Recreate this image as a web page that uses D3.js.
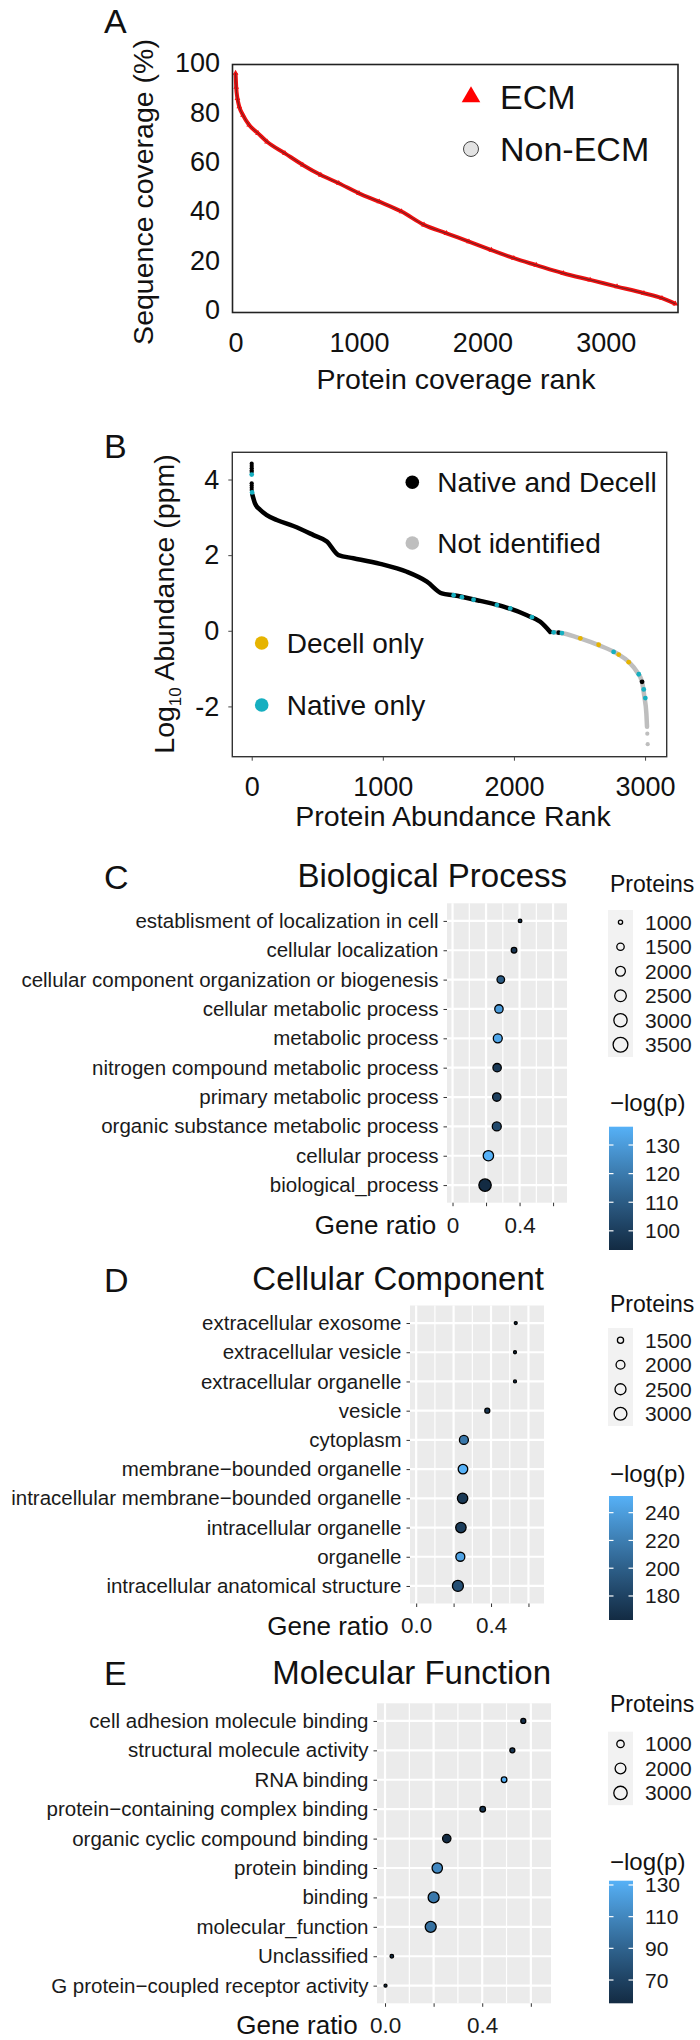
<!DOCTYPE html>
<html><head><meta charset="utf-8">
<script src="https://cdn.jsdelivr.net/npm/d3@7"></script>
<style>body{margin:0;background:#fff}svg{display:block}text{font-family:"Liberation Sans",Arial,sans-serif}</style>
</head><body>
<script>
// ---------- DATA ----------
// Panel A: sequence coverage vs rank
const aRank = [0,5,15,30,60,110,182,255,400,545,691,836,1000,1164,1345,1527,1709,1891,2073,2255,2436,2655,2873,3091,3309,3455,3564];
const aCov  = [96,90.3,85.8,82.4,79.0,75.0,71.6,68.2,63.5,58.8,54.7,51.4,47.3,43.9,39.9,34.5,31.1,27.7,24.3,21.0,18.2,14.9,12.2,9.5,6.8,4.8,2.5];
const aTicksX = [0,1000,2000,3000];
const aTicksY = [0,20,40,60,80,100];

// Panel B: log10 abundance vs rank
const bBothRank = [5,25,64,115,191,318,471,573,662,776,980,1183,1336,1450,1540,1743,1921,2099,2201,2277];
const bBothVal  = [3.6,3.37,3.2,3.06,2.93,2.77,2.53,2.36,2.0,1.92,1.77,1.56,1.30,0.99,0.94,0.79,0.64,0.41,0.24,-0.03];
const bNotRank = [2277,2379,2506,2646,2786,2875,2939,2977,2995,3010,3015];
const bNotVal  = [-0.03,-0.07,-0.2,-0.38,-0.6,-0.82,-1.09,-1.35,-1.75,-2.19,-2.54];
const bTopBothRank = [0,0,0,0,0,0,0,0,0];
const bTopBothVal  = [4.42,4.36,4.3,4.24,4.2,3.9,3.84,3.78,3.72];
const bExtraBothRank = [2341,2977];
const bExtraBothVal  = [-0.05,-1.35];
const bExtraNotRank = [3017,3020];
const bExtraNotVal  = [-2.72,-3.0];
const bNativeRank = [0,3,1540,1603,1692,1870,1972,2137,2303,2366,2760,2952,2990,3002];
const bNativeVal  = [4.13,3.66,0.94,0.89,0.82,0.68,0.59,0.36,-0.04,-0.06,-0.56,-1.15,-1.55,-1.78];
const bDecellRank = [2506,2646,2799,2875];
const bDecellVal  = [-0.2,-0.37,-0.63,-0.83];
const bTicksX = [0,1000,2000,3000];
const bTicksY = [-2,0,2,4];

// Panel C: Biological Process
const cCats = ["establisment of localization in cell","cellular localization","cellular component organization or biogenesis","cellular metabolic process","metabolic process","nitrogen compound metabolic process","primary metabolic process","organic substance metabolic process","cellular process","biological_process"];
const cRatio = [0.403,0.367,0.288,0.277,0.27,0.266,0.264,0.264,0.214,0.194];
const cProteins = [912,1159,1493,1652,1780,1652,1652,1780,2110,2656];
const cLogP = [96,97,110,130,133.5,98.5,100.6,104,136.4,93.3];
const cSizeBreaks = [1000,1500,2000,2500,3000,3500];
const cColorTicks = [100,110,120,130];
const cColorRange = [93.3,136.4];

// Panel D: Cellular Component
const dCats = ["extracellular exosome","extracellular vesicle","extracellular organelle","vesicle","cytoplasm","membrane\u2212bounded organelle","intracellular membrane\u2212bounded organelle","intracellular organelle","organelle","intracellular anatomical structure"];
const dRatio = [0.532,0.528,0.528,0.38,0.255,0.25,0.248,0.239,0.236,0.223];
const dProteins = [1088,1088,1088,1300,1980,2112,2299,2299,1980,2448];
const dLogP = [162.7,165,166,172,216,252,173,176,243,189];
const dSizeBreaks = [1500,2000,2500,3000];
const dColorTicks = [180,200,220,240];
const dColorRange = [162.7,252];

// Panel E: Molecular Function
const eCats = ["cell adhesion molecule binding","structural molecule activity","RNA binding","protein\u2212containing complex binding","organic cyclic compound binding","protein binding","binding","molecular_function","Unclassified","G protein\u2212coupled receptor activity"];
const eRatio = [0.569,0.524,0.49,0.402,0.254,0.215,0.2,0.188,0.028,0.002];
const eProteins = [454,454,563,563,1206,1804,2006,2006,241,167];
const eLogP = [58,62,132.7,63,55.3,111,102,98,57,56];
const eSizeBreaks = [1000,2000,3000];
const eColorTicks = [70,90,110,130];
const eColorRange = [55.3,132.7];

// ---------- DRAWING ----------
const W = 700, H = 2040;
const svg = d3.select("body").append("svg").attr("width", W).attr("height", H);
svg.append("rect").attr("width", W).attr("height", H).attr("fill", "#fff");

function letter(t, x, y) {
  svg.append("text").attr("x", x).attr("y", y).attr("font-size", 34).attr("fill", "#111").text(t);
}

// ===== Panel A =====
(function () {
  const L = 232.5, R = 678, T = 64.5, B = 312.5;
  const x = d3.scaleLinear().domain([-25, 3585]).range([L, R]);
  const y = d3.scaleLinear().domain([-1, 99.5]).range([B, T]);
  letter("A", 104, 33);
  const g = svg.append("g");
  const line = d3.line().x((d, i) => x(aRank[i])).y((d, i) => y(aCov[i])).curve(d3.curveMonotoneX);
  g.append("path").datum(aRank).attr("d", line).attr("fill", "none").attr("stroke", "#F01010").attr("stroke-width", 4);
  const tri = d3.symbol().type(d3.symbolTriangle).size(14);
  g.selectAll(".ta").data(aRank).join("path").attr("d", tri)
    .attr("transform", (d, i) => `translate(${x(d)},${y(aCov[i])})`).attr("fill", "#F01010");
  g.append("path").datum(aRank).attr("d", line).attr("fill", "none").attr("stroke", "#2a2a2a").attr("stroke-width", 0.9).attr("opacity", 0.75);
  g.append("rect").attr("x", L).attr("y", T).attr("width", R - L).attr("height", B - T)
    .attr("fill", "none").attr("stroke", "#222").attr("stroke-width", 1.6);
  const ax = g.append("g").attr("transform", `translate(0,${B})`)
    .call(d3.axisBottom(x).tickValues(aTicksX).tickSize(0).tickPadding(20).tickFormat(d3.format("d")));
  ax.select(".domain").remove();
  ax.selectAll("text").attr("font-size", 27).attr("fill", "#111").attr("font-family", "Liberation Sans, Arial, sans-serif");
  const ay = g.append("g").attr("transform", `translate(${L},0)`)
    .call(d3.axisLeft(y).tickValues(aTicksY).tickSize(0).tickPadding(12.5));
  ay.select(".domain").remove();
  ay.selectAll("text").attr("font-size", 27).attr("fill", "#111").attr("font-family", "Liberation Sans, Arial, sans-serif");
  svg.append("text").attr("x", 456).attr("y", 389).attr("text-anchor", "middle").attr("font-size", 28.5).attr("fill", "#111").text("Protein coverage rank");
  svg.append("text").attr("transform", "translate(153,192) rotate(-90)").attr("text-anchor", "middle").attr("font-size", 28.5).attr("fill", "#111").text("Sequence coverage (%)");
  // legend
  svg.append("path").attr("d", d3.symbol().type(d3.symbolTriangle).size(150)).attr("transform", "translate(471,97)").attr("fill", "#FF0000");
  svg.append("circle").attr("cx", 471).attr("cy", 149).attr("r", 7.5).attr("fill", "#E3E3E3").attr("stroke", "#444").attr("stroke-width", 1);
  svg.append("text").attr("x", 500).attr("y", 109).attr("font-size", 34).attr("fill", "#111").text("ECM");
  svg.append("text").attr("x", 500).attr("y", 161).attr("font-size", 34).attr("fill", "#111").text("Non-ECM");
})();

// ===== Panel B =====
(function () {
  const L = 232.3, R = 666.7, T = 452.3, B = 756.7;
  const x = d3.scaleLinear().domain([-148, 3165]).range([L, R]);
  const y = d3.scaleLinear().domain([-3.33, 4.72]).range([B, T]);
  letter("B", 104, 458);
  const g = svg.append("g");
  const cBoth = "#000", cNot = "#BEBEBE", cNative = "#16AFC0", cDecell = "#E6B400";
  const mk = (R_, V_) => d3.line().x((d, i) => x(R_[i])).y((d, i) => y(V_[i])).curve(d3.curveMonotoneX)(R_);
  g.append("path").attr("d", mk(bNotRank, bNotVal)).attr("fill", "none").attr("stroke", cNot).attr("stroke-width", 4.5).attr("stroke-linecap", "round");
  g.append("path").attr("d", mk(bBothRank, bBothVal)).attr("fill", "none").attr("stroke", cBoth).attr("stroke-width", 4.5).attr("stroke-linecap", "round");
  const dots = (R_, V_, col, r) => g.append("g").selectAll("circle").data(R_).join("circle")
    .attr("cx", d => x(d)).attr("cy", (d, i) => y(V_[i])).attr("r", r).attr("fill", col);
  dots(bTopBothRank, bTopBothVal, cBoth, 2.1);
  dots(bExtraNotRank, bExtraNotVal, cNot, 2.1);
  dots(bExtraBothRank, bExtraBothVal, cBoth, 2.4);
  dots(bNativeRank, bNativeVal, cNative, 2.4);
  dots(bDecellRank, bDecellVal, cDecell, 2.4);
  g.append("rect").attr("x", L).attr("y", T).attr("width", R - L).attr("height", B - T)
    .attr("fill", "none").attr("stroke", "#333").attr("stroke-width", 1.4);
  const ax = g.append("g").attr("transform", `translate(0,${B})`)
    .call(d3.axisBottom(x).tickValues(bTicksX).tickSize(4).tickPadding(16).tickFormat(d3.format("d")));
  ax.select(".domain").remove();
  ax.selectAll("line").attr("stroke", "#444");
  ax.selectAll("text").attr("font-size", 27).attr("fill", "#111").attr("font-family", "Liberation Sans, Arial, sans-serif");
  const ay = g.append("g").attr("transform", `translate(${L},0)`)
    .call(d3.axisLeft(y).tickValues(bTicksY).tickSize(4).tickPadding(9).tickFormat(d3.format("d")));
  ay.select(".domain").remove();
  ay.selectAll("line").attr("stroke", "#444");
  ay.selectAll("text").attr("font-size", 27).attr("fill", "#111").attr("font-family", "Liberation Sans, Arial, sans-serif").text(d => d < 0 ? "-" + Math.abs(d) : d);
  svg.append("text").attr("x", 453).attr("y", 826).attr("text-anchor", "middle").attr("font-size", 28.5).attr("fill", "#111").text("Protein Abundance Rank");
  const yt = svg.append("text").attr("transform", "translate(174,604) rotate(-90)").attr("text-anchor", "middle").attr("font-size", 28.5).attr("fill", "#111");
  yt.append("tspan").text("Log");
  yt.append("tspan").attr("font-size", 17).attr("dy", 7).text("10");
  yt.append("tspan").attr("dy", -7).text(" Abundance (ppm)");
  // legend
  const leg = [[412.3, 482.3, cBoth, "Native and Decell", 437.3], [412.3, 543, cNot, "Not identified", 437.3],
               [261.7, 643, cDecell, "Decell only", 286.7], [261.7, 705, cNative, "Native only", 286.7]];
  leg.forEach(l => {
    svg.append("circle").attr("cx", l[0]).attr("cy", l[1]).attr("r", 6.8).attr("fill", l[2]);
    svg.append("text").attr("x", l[4]).attr("y", l[1] + 10).attr("font-size", 28).attr("fill", "#111").text(l[3]);
  });
})();

// ===== GO panels =====
const lowC = "#132B43", highC = "#56B1F7";
let gradId = 0;
function goPanel(o) {
  const x = d3.scaleLinear().domain([-0.033, 0.683]).range([o.left, o.right]);
  const y = d3.scalePoint().domain(o.cats).range([o.top, o.bottom]).padding(0.6);
  const col = d3.scaleLinear().domain(o.colorRange).range([lowC, highC]).interpolate(d3.interpolateLab);
  const area = d3.scaleLinear().domain([o.sizeBreaks[0], o.sizeBreaks[o.sizeBreaks.length - 1]])
    .range([o.rad[0] * o.rad[0], o.rad[1] * o.rad[1]]);
  const rad = v => Math.sqrt(Math.max(1.6, area(v)));
  const g = svg.append("g");
  letter(o.letter, 104, o.letterY);
  g.append("text").attr("x", o.right).attr("y", o.titleY).attr("text-anchor", "end").attr("font-size", 33).attr("fill", "#111").text(o.title);
  g.append("rect").attr("x", o.left).attr("y", o.top).attr("width", o.right - o.left).attr("height", o.bottom - o.top).attr("fill", "#EBEBEB");
  [0.1, 0.3, 0.5].forEach(v => g.append("line").attr("x1", x(v)).attr("x2", x(v)).attr("y1", o.top).attr("y2", o.bottom).attr("stroke", "#fff").attr("stroke-width", 1.2));
  [0, 0.2, 0.4, 0.6].forEach(v => g.append("line").attr("x1", x(v)).attr("x2", x(v)).attr("y1", o.top).attr("y2", o.bottom).attr("stroke", "#fff").attr("stroke-width", 2.2));
  o.cats.forEach(c => g.append("line").attr("x1", o.left).attr("x2", o.right).attr("y1", y(c)).attr("y2", y(c)).attr("stroke", "#fff").attr("stroke-width", 2.2));
  g.selectAll(".dot").data(o.cats).join("circle")
    .attr("cx", (d, i) => x(o.ratio[i])).attr("cy", d => y(d))
    .attr("r", (d, i) => rad(o.proteins[i]) - 0.5)
    .attr("fill", (d, i) => col(o.logp[i])).attr("stroke", "#000").attr("stroke-width", 1.3);
  const ay = g.append("g").attr("transform", `translate(${o.left},0)`).call(d3.axisLeft(y).tickSize(3.5).tickPadding(5));
  ay.select(".domain").remove();
  ay.selectAll("line").attr("stroke", "#333");
  ay.selectAll("text").attr("font-size", 20.5).attr("fill", "#1a1a1a").attr("font-family", "Liberation Sans, Arial, sans-serif");
  const ax = g.append("g").attr("transform", `translate(0,${o.bottom})`)
    .call(d3.axisBottom(x).tickValues([0, 0.2, 0.4, 0.6]).tickSize(3.5).tickPadding(10.5).tickFormat((d, i) => o.xLabels[i]));
  ax.select(".domain").remove();
  ax.selectAll("line").attr("stroke", "#333");
  ax.selectAll("text").attr("font-size", 22.5).attr("fill", "#1a1a1a").attr("font-family", "Liberation Sans, Arial, sans-serif");
  const zw = o.xLabels[0].length > 1 ? 17.4 : 6.3;
  g.append("text").attr("x", x(0) - zw - 10).attr("y", o.bottom + 31).attr("text-anchor", "end").attr("font-size", 26).attr("fill", "#111").text("Gene ratio");
  // size legend
  const lx = 608, lw = 25, step = 24.5;
  g.append("text").attr("x", 610).attr("y", o.protY).attr("font-size", 23).attr("fill", "#111").text("Proteins");
  const n = o.sizeBreaks.length;
  g.append("rect").attr("x", lx).attr("y", o.keyTop).attr("width", lw).attr("height", n * step).attr("fill", "#F2F2F2");
  o.sizeBreaks.forEach((v, i) => {
    const cy = o.keyTop + (i + 0.5) * step;
    g.append("circle").attr("cx", lx + lw / 2).attr("cy", cy).attr("r", rad(v) - 0.6).attr("fill", "none").attr("stroke", "#000").attr("stroke-width", 1.3);
    g.append("text").attr("x", 645).attr("y", cy + 7.5).attr("font-size", 21).attr("fill", "#1a1a1a").text(v);
  });
  // colour bar
  g.append("text").attr("x", 610).attr("y", o.logY).attr("font-size", 24).attr("fill", "#111").text("\u2212log(p)");
  const id = "grad" + (gradId++);
  const lg = svg.append("defs").append("linearGradient").attr("id", id).attr("x1", 0).attr("y1", 1).attr("x2", 0).attr("y2", 0);
  d3.range(0, 1.0001, 0.1).forEach(t => lg.append("stop").attr("offset", t).attr("stop-color", col(o.colorRange[0] + t * (o.colorRange[1] - o.colorRange[0]))));
  const cb = d3.scaleLinear().domain(o.colorRange).range([o.cbBottom, o.cbTop]);
  g.append("rect").attr("x", lx + 1).attr("y", o.cbTop).attr("width", lw - 1).attr("height", o.cbBottom - o.cbTop).attr("fill", `url(#${id})`);
  o.colorTicks.forEach(v => {
    g.append("line").attr("x1", lx + 1).attr("x2", lx + 5.5).attr("y1", cb(v)).attr("y2", cb(v)).attr("stroke", "#fff").attr("stroke-width", 1.2);
    g.append("line").attr("x1", lx + lw - 4.5).attr("x2", lx + lw).attr("y1", cb(v)).attr("y2", cb(v)).attr("stroke", "#fff").attr("stroke-width", 1.2);
    g.append("text").attr("x", 645).attr("y", cb(v) + 7.5).attr("font-size", 21).attr("fill", "#1a1a1a").text(v);
  });
}

goPanel({ letter: "C", letterY: 889, title: "Biological Process", titleY: 887,
  left: 447, right: 567, top: 903.3, bottom: 1202.7,
  cats: cCats, ratio: cRatio, proteins: cProteins, logp: cLogP,
  sizeBreaks: cSizeBreaks, rad: [2.7, 8], colorTicks: cColorTicks, colorRange: cColorRange,
  xLabels: ["0", "", "0.4", ""], protY: 892, keyTop: 910, logY: 1111, cbTop: 1126.7, cbBottom: 1250 });

goPanel({ letter: "D", letterY: 1292, title: "Cellular Component", titleY: 1290,
  left: 410, right: 544, top: 1305.5, bottom: 1603.5,
  cats: dCats, ratio: dRatio, proteins: dProteins, logp: dLogP,
  sizeBreaks: dSizeBreaks, rad: [3.7, 7], colorTicks: dColorTicks, colorRange: dColorRange,
  xLabels: ["0.0", "", "0.4", ""], protY: 1312, keyTop: 1328, logY: 1482, cbTop: 1496, cbBottom: 1620 });

goPanel({ letter: "E", letterY: 1685, title: "Molecular Function", titleY: 1684,
  left: 377, right: 551, top: 1703.3, bottom: 2003.3,
  cats: eCats, ratio: eRatio, proteins: eProteins, logp: eLogP,
  sizeBreaks: eSizeBreaks, rad: [4.3, 7.3], colorTicks: eColorTicks, colorRange: eColorRange,
  xLabels: ["0.0", "", "0.4", ""], protY: 1712, keyTop: 1731.7, logY: 1870, cbTop: 1880.7, cbBottom: 2003.3 });
</script>
</body></html>
